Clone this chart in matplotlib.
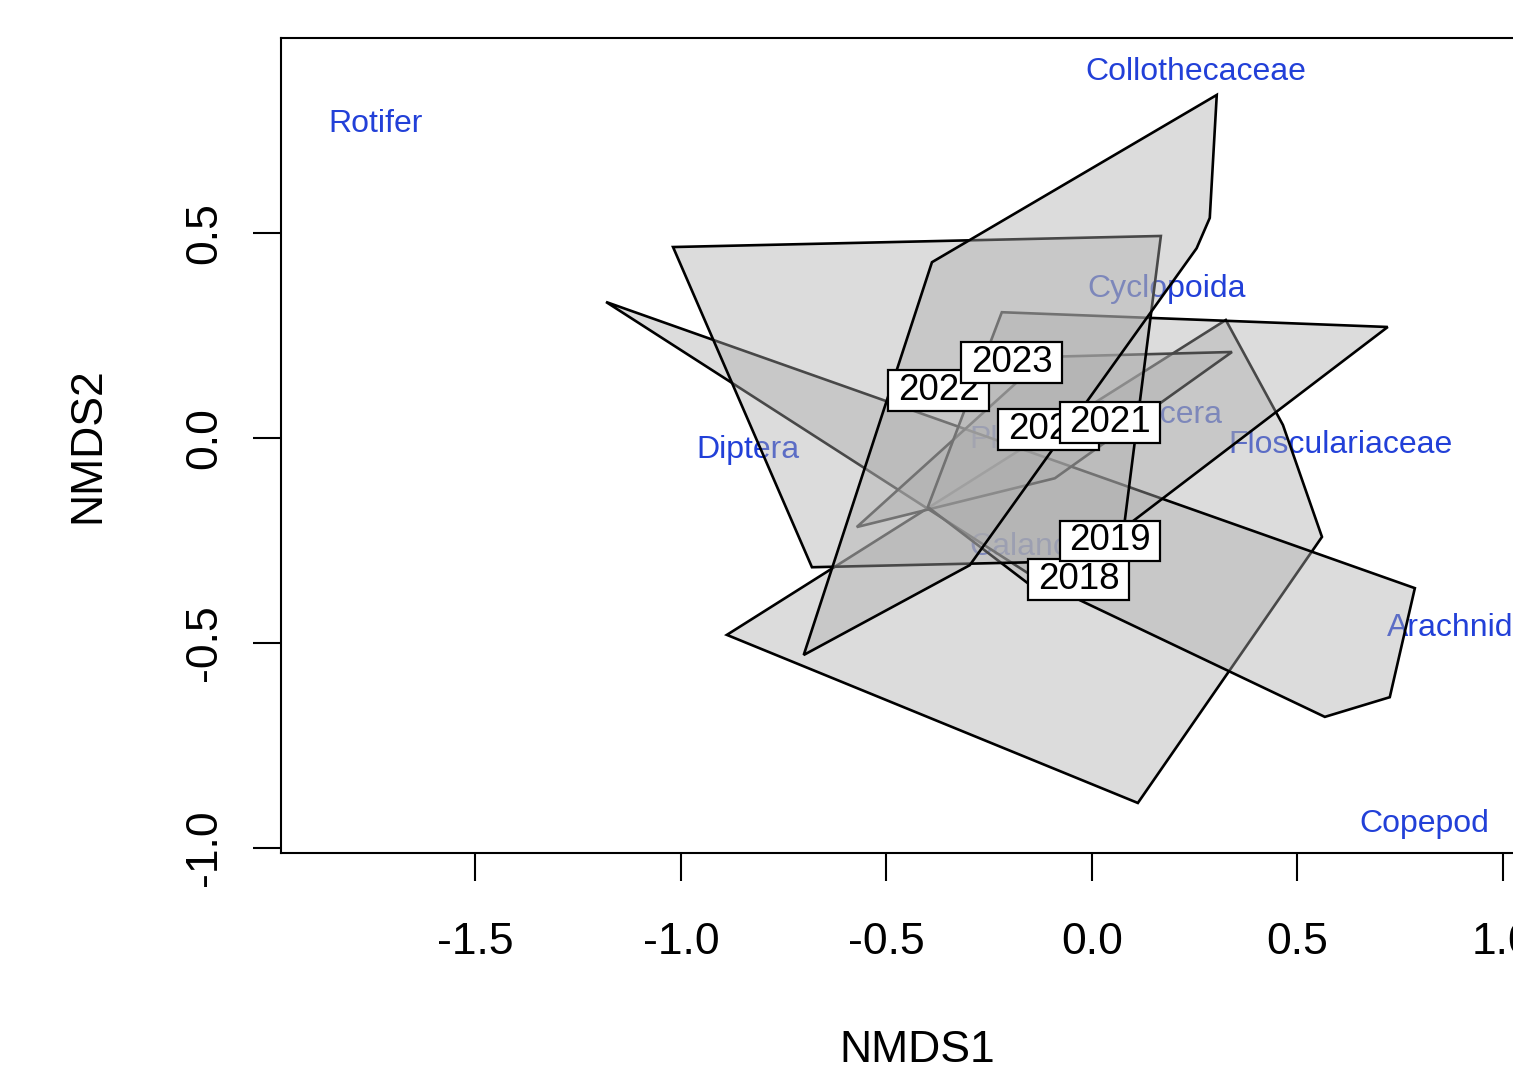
import matplotlib
matplotlib.use('Agg')
import matplotlib.pyplot as plt
from matplotlib.path import Path

plt.rcParams['font.family'] = ['Liberation Sans', 'DejaVu Sans']

# ---- data (NMDS coordinates) ----
years = ['2018', '2019', '2020', '2021', '2022', '2023']

hull_2018_x = [-0.888, 0.112, 0.560, 0.465, 0.326]
hull_2018_y = [-0.480, -0.890, -0.241, 0.032, 0.288]

hull_2019_x = [-1.182, 0.786, 0.725, 0.567, -0.122]
hull_2019_y = [0.332, -0.366, -0.632, -0.680, -0.351]

hull_2020_x = [-0.572, -0.090, 0.341, -0.114]
hull_2020_y = [-0.217, -0.098, 0.210, 0.198]

hull_2021_x = [-0.219, 0.720, -0.127, -0.399]
hull_2021_y = [0.307, 0.271, -0.376, -0.168]

hull_2022_x = [-1.019, 0.168, 0.068, -0.681]
hull_2022_y = [0.466, 0.493, -0.298, -0.315]

hull_2023_x = [-0.701, -0.389, 0.304, 0.287, 0.255, -0.297]
hull_2023_y = [-0.529, 0.429, 0.837, 0.537, 0.463, -0.310]

year_label_x = [-0.032, 0.044, -0.105, 0.044, -0.372, -0.195]
year_label_y = [-0.344, -0.251, 0.022, 0.037, 0.117, 0.185]

species = ['Rotifer', 'Collothecaceae', 'Cyclopoida', 'Diptera',
           'Flosculariaceae', 'Cladocera', 'Ploima', 'Calanoida',
           'Arachnid', 'Copepod']
species_x = [-1.742, 0.253, 0.182, -0.837, 0.606, 0.141, -0.178, -0.122,
             0.871, 0.808]
species_y = [0.766, 0.893, 0.364, -0.030, -0.018, 0.056, -0.005, -0.266,
             -0.464, -0.942]

x_ticks = [-1.5, -1.0, -0.5, 0.0, 0.5, 1.0]
x_tick_labels = ['-1.5', '-1.0', '-0.5', '0.0', '0.5', '1.0']
y_ticks = [-1.0, -0.5, 0.0, 0.5]
y_tick_labels = ['-1.0', '-0.5', '0.0', '0.5']

hulls_x = [hull_2018_x, hull_2019_x, hull_2020_x, hull_2021_x, hull_2022_x, hull_2023_x]
hulls_y = [hull_2018_y, hull_2019_y, hull_2020_y, hull_2021_y, hull_2022_y, hull_2023_y]


def year_box(x0, y0, width, height, mutation_size):
    """Rectangle with wider horizontal than vertical padding (like R's ordilabel)."""
    px = 0.26 * mutation_size
    py = 0.08 * mutation_size
    x0, y0 = x0 - px, y0 - py
    x1, y1 = x0 + width + 2 * px, y0 + height + 2 * py
    return Path([(x0, y0), (x1, y0), (x1, y1), (x0, y1), (x0, y0)], closed=True)


# ---- figure ----
fig = plt.figure(figsize=(15.13, 10.72), dpi=100)
ax = fig.add_axes([0.1857, 0.2043, 0.8407, 0.7603])
ax.set_xlim(-1.973, 1.122)
ax.set_ylim(-1.012, 0.976)

species_color = '#2240d8'
for name, sx, sy in zip(species, species_x, species_y):
    ax.text(sx, sy, name, color=species_color, fontsize=23,
            ha='center', va='center', zorder=1)

for i, (hx, hy) in enumerate(zip(hulls_x, hulls_y)):
    ax.fill(hx, hy, facecolor=(0.68, 0.68, 0.68, 0.42), edgecolor='black',
            linewidth=1.9, joinstyle='miter', zorder=2 + i)

for yr, lx, ly in zip(years, year_label_x, year_label_y):
    ax.text(lx, ly, yr, fontsize=26.5, ha='center', va='center', zorder=20,
            bbox=dict(boxstyle=year_box, facecolor='white',
                      edgecolor='black', linewidth=1.6))

for sp in ax.spines.values():
    sp.set_linewidth(1.5)

ax.set_xticks(x_ticks)
ax.set_xticklabels(x_tick_labels)
ax.set_yticks(y_ticks)
ax.set_yticklabels(y_tick_labels)
ax.tick_params(axis='both', direction='out', length=20, width=1.5,
               labelsize=32)
ax.tick_params(axis='x', pad=30)
ax.tick_params(axis='y', pad=20, labelrotation=90)
for t in ax.get_yticklabels():
    t.set_va('center')

ax.set_xlabel('NMDS1', fontsize=32)
ax.xaxis.set_label_coords(0.5, -(1050 - 853) / 815)
ax.xaxis.label.set_va('center')
ax.set_ylabel('NMDS2', fontsize=32)
ax.yaxis.set_label_coords((88 - 281) / 1272, 0.5)
ax.yaxis.label.set_va('center')

fig.savefig('out.png', dpi=100)
